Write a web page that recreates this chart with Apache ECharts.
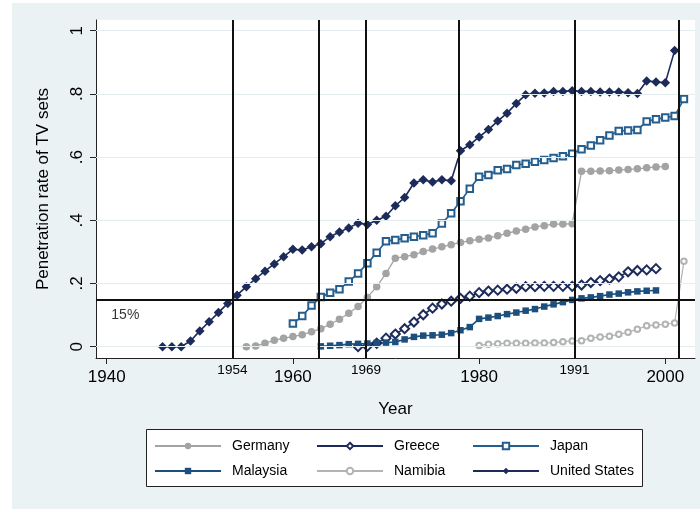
<!DOCTYPE html>
<html>
<head>
<meta charset="utf-8">
<script src="https://cdn.jsdelivr.net/npm/echarts@6/dist/echarts.min.js"></script>
<style>
  html, body { margin: 0; padding: 0; background: #ffffff; }
  #chart { width: 700px; height: 509px; }
</style>
</head>
<body>
<div id="chart"></div>
<script>
// TV-set penetration rates by country, one value per year from the start year.
const germanyStart = 1955;
const germany = [0.000, 0.002, 0.011, 0.020, 0.027, 0.032, 0.038, 0.047, 0.057, 0.071,
  0.087, 0.106, 0.127, 0.156, 0.190, 0.232, 0.280, 0.285, 0.291, 0.301,
  0.309, 0.316, 0.323, 0.330, 0.335, 0.340, 0.344, 0.351, 0.359, 0.366,
  0.372, 0.379, 0.383, 0.388, 0.388, 0.389, 0.555, 0.555, 0.556, 0.557,
  0.559, 0.561, 0.563, 0.566, 0.569, 0.570];

const greeceStart = 1967;
const greece = [0.000, 0.001, 0.011, 0.027, 0.040, 0.057, 0.078, 0.101, 0.122, 0.135,
  0.144, 0.153, 0.160, 0.171, 0.176, 0.179, 0.182, 0.185, 0.190, 0.190,
  0.191, 0.191, 0.191, 0.191, 0.195, 0.203, 0.209, 0.214, 0.221, 0.237,
  0.241, 0.243, 0.247];

const japanStart = 1960;
const japan = [0.073, 0.097, 0.130, 0.157, 0.171, 0.182, 0.206, 0.232, 0.264, 0.297,
  0.334, 0.338, 0.343, 0.348, 0.353, 0.359, 0.390, 0.422, 0.460, 0.500,
  0.538, 0.543, 0.558, 0.562, 0.575, 0.579, 0.585, 0.591, 0.597, 0.603,
  0.611, 0.625, 0.637, 0.653, 0.668, 0.683, 0.684, 0.686, 0.713, 0.720,
  0.725, 0.730, 0.784];

const malaysiaStart = 1963;
const malaysia = [0.001, 0.003, 0.005, 0.008, 0.009, 0.010, 0.012, 0.013, 0.015, 0.023,
  0.031, 0.035, 0.036, 0.038, 0.043, 0.052, 0.062, 0.088, 0.092, 0.097,
  0.103, 0.108, 0.114, 0.119, 0.127, 0.134, 0.141, 0.148, 0.153, 0.156,
  0.160, 0.165, 0.168, 0.172, 0.175, 0.177, 0.178];

const namibiaStart = 1980;
const namibia = [0.004, 0.008, 0.009, 0.011, 0.011, 0.011, 0.012, 0.012, 0.013, 0.016,
  0.018, 0.019, 0.027, 0.031, 0.033, 0.039, 0.046, 0.055, 0.066, 0.069,
  0.071, 0.075, 0.270];

const usStart = 1946;
const unitedStates = [0.000, 0.000, 0.000, 0.018, 0.050, 0.079, 0.108, 0.137, 0.163, 0.190,
  0.215, 0.239, 0.262, 0.285, 0.308, 0.306, 0.316, 0.326, 0.348, 0.363,
  0.376, 0.391, 0.387, 0.400, 0.413, 0.446, 0.472, 0.518, 0.528, 0.521,
  0.528, 0.525, 0.620, 0.639, 0.664, 0.687, 0.714, 0.739, 0.770, 0.797,
  0.802, 0.803, 0.808, 0.808, 0.810, 0.808, 0.808, 0.806, 0.806, 0.806,
  0.804, 0.801, 0.841, 0.838, 0.835, 0.937];

// Year at which each country passes the 15% threshold (vertical reference lines).
const crossYears = [1953.5, 1962.8, 1967.85, 1977.85, 1990.25, 2001.4];
// Reference lines that carry a year caption, and their captions.
const crossLabelYears = [1953.5, 1967.85, 1990.25];
const crossLabels = ['1954', '1969', '1991'];

const threshold = 0.15;
const thresholdText = '15%';
const thresholdTextAt = [1942, 0.1];

const xTicks = [1940, 1960, 1980, 2000];
const xTickLabels = ['1940', '1960', '1980', '2000'];
const yTicks = [0, 0.2, 0.4, 0.6, 0.8, 1];
const yTickLabels = ['0', '.2', '.4', '.6', '.8', '1'];

const xRange = [1938.85, 2003.19];
const yRange = [-0.0358, 1.0339];

const FONT = 'Liberation Sans, Arial, sans-serif';
const NAVY = '#1c2b5a';
const BLUE = '#245e8e';
const MBLUE = '#1d4f7e';
const GRAY = '#a3a3a3';
const LGRAY = '#b3b3b3';

function pairs(start, values) {
  return values.map((v, i) => [start + i, v]);
}
function lookup(ticks, labels) {
  return v => {
    for (let i = 0; i < ticks.length; i++) {
      if (Math.abs(ticks[i] - v) < 1e-6) return labels[i];
    }
    return '';
  };
}

function countrySeries(name, start, values, color, symbol, size, lineWidth, hollow) {
  return {
    name: name,
    type: 'line',
    data: pairs(start, values),
    symbol: symbol,
    symbolSize: size,
    showAllSymbol: true,
    z: 4,
    lineStyle: { color: color, width: lineWidth },
    itemStyle: hollow
      ? { color: color, borderColor: color, borderWidth: 1.5 }
      : { color: color, borderWidth: 0 },
    emphasis: { disabled: true },
    animation: false
  };
}

const chart = echarts.init(document.getElementById('chart'), null, { renderer: 'canvas' });

const legendCommon = {
  orient: 'vertical',
  top: 439,
  padding: 0,
  itemWidth: 66,
  itemHeight: 8,
  itemGap: 11,
  selectedMode: false,
  z: 10,
  textStyle: { fontFamily: FONT, fontSize: 14, color: '#000', padding: [0, 0, 0, 6] }
};

const option = {
  backgroundColor: '#ffffff',
  animation: false,
  textStyle: { fontFamily: FONT },
  graphic: [
    {
      type: 'rect', z: -10, silent: true,
      shape: { x: 12, y: 3, width: 688, height: 506 },
      style: { fill: '#eaf2f3' }
    },
    {
      type: 'rect', z: 1, silent: true,
      shape: { x: 146.5, y: 429.5, width: 496, height: 57 },
      style: { fill: '#ffffff', stroke: '#222', lineWidth: 1 }
    }
  ],
  grid: {
    left: 96, top: 20, width: 599, height: 338,
    show: true, backgroundColor: '#ffffff', borderWidth: 0
  },
  xAxis: [
    {
      type: 'value', min: xRange[0], max: xRange[1],
      name: 'Year', nameLocation: 'middle', nameGap: 43,
      nameTextStyle: { fontFamily: FONT, fontSize: 17, color: '#000' },
      axisLine: { show: true, onZero: false, lineStyle: { color: '#222', width: 1 } },
      axisTick: { show: true, length: 6, customValues: xTicks, lineStyle: { color: '#222' } },
      axisLabel: {
        customValues: xTicks, margin: 11, fontSize: 17, color: '#000', fontFamily: FONT,
        formatter: lookup(xTicks, xTickLabels)
      },
      splitLine: { show: false }
    },
    {
      type: 'value', min: xRange[0], max: xRange[1], position: 'bottom',
      axisLine: { show: false }, axisTick: { show: false }, splitLine: { show: false },
      axisLabel: {
        customValues: crossLabelYears, margin: 5, fontSize: 13.5, color: '#000', fontFamily: FONT,
        formatter: lookup(crossLabelYears, crossLabels)
      }
    }
  ],
  yAxis: {
    type: 'value', min: yRange[0], max: yRange[1],
    name: 'Penetration rate of TV sets', nameLocation: 'middle', nameGap: 44,
    nameTextStyle: { fontFamily: FONT, fontSize: 17, color: '#000' },
    axisLine: { show: true, onZero: false, lineStyle: { color: '#222', width: 1 } },
    axisTick: { show: true, length: 6, customValues: yTicks, lineStyle: { color: '#222' } },
    axisLabel: {
      customValues: yTicks, rotate: 90, margin: 10, fontSize: 17, color: '#000', fontFamily: FONT,
      formatter: lookup(yTicks, yTickLabels)
    },
    splitLine: { show: false }
  },
  legend: [
    Object.assign({}, legendCommon, { left: 154, data: ['Germany', 'Malaysia'] }),
    Object.assign({}, legendCommon, { left: 316, data: ['Greece', 'Namibia'] }),
    Object.assign({}, legendCommon, { left: 472, data: ['Japan', 'United States'] })
  ],
  series: [
    {
      // grid lines and reference lines
      name: 'reference',
      type: 'line',
      data: [],
      z: 1,
      silent: true,
      markLine: {
        silent: true,
        symbol: ['none', 'none'],
        animation: false,
        label: { show: false },
        emphasis: { disabled: true },
        data: yTicks.map(v => ({ yAxis: v, lineStyle: { color: '#e3edef', width: 1.2, type: 'solid' } }))
          .concat(crossYears.map(v => ({ xAxis: v, lineStyle: { color: '#111', width: 2, type: 'solid' } })))
          .concat([{ yAxis: threshold, lineStyle: { color: '#111', width: 2, type: 'solid' } }])
      }
    },
    {
      name: 'threshold note',
      type: 'scatter',
      data: [thresholdTextAt],
      symbolSize: 0,
      silent: true,
      z: 3,
      label: {
        show: true, position: 'inside', formatter: thresholdText,
        fontFamily: FONT, fontSize: 14, color: '#000'
      }
    },
    countrySeries('Germany', germanyStart, germany, GRAY, 'circle', 7.5, 1.3, false),
    countrySeries('Greece', greeceStart, greece, NAVY, 'emptyDiamond', 9, 1.6, true),
    countrySeries('Japan', japanStart, japan, BLUE, 'emptyRect', 6.5, 1.6, true),
    countrySeries('Malaysia', malaysiaStart, malaysia, MBLUE, 'rect', 6.5, 1.6, false),
    countrySeries('Namibia', namibiaStart, namibia, LGRAY, 'emptyCircle', 5.5, 1.2, true),
    countrySeries('United States', usStart, unitedStates, NAVY, 'diamond', 9.5, 1.6, false)
  ]
};

chart.setOption(option);
</script>
</body>
</html>
